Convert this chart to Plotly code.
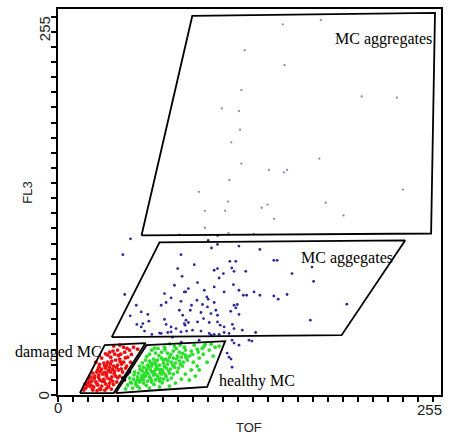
import plotly.graph_objects as go

# ---- data (TOF, FL3) ----
purple_x = [149.7, 175.0, 124.3, 150.8, 122.1, 202.2, 225.6, 109.1, 120.5, 121.2, 115.4, 174.0, 122.1, 140.4,
            150.5, 152.5, 114.1, 93.8, 229.6, 113.3, 178.2, 97.8, 111.3, 135.6, 139.5, 143.9, 190.1, 97.8,
            80.8, 113.5, 130.3]
purple_y = [244.9, 247.7, 227.8, 217.9, 201.4, 197.2, 196.4, 189.3, 187.6, 175.3, 166.9, 156.2, 152.9, 148.7,
            147.1, 148.7, 142.1, 134.2, 135.7, 127.8, 127.0, 121.7, 121.7, 123.7, 125.8, 116.4, 118.6, 110.5,
            105.9, 106.9, 106.5]

blue_x = [48.3, 43.2, 81.9, 79.7, 82.6, 44.4, 77.5, 70.9, 72.0, 75.3, 81.9, 84.1, 52.1, 55.4, 59.8, 68.7,
          80.8, 83.0, 48.1, 52.5, 56.5, 60.5, 70.9, 72.0, 75.3, 78.6, 84.1, 85.2, 55.4, 57.6, 62.5, 68.7,
          73.1, 75.3, 81.9, 85.6,
          100.0, 106.2, 102.2, 106.2, 120.5, 134.4, 114.4, 118.4, 90.7, 106.2, 104.0, 115.7, 117.2, 125.0,
          107.3, 110.1, 92.9, 104.0, 116.8, 85.0, 86.8, 97.4, 110.6, 120.5, 123.4, 125.6, 130.5, 134.4,
          99.1, 92.5, 100.0, 104.0, 88.9, 96.2, 99.5, 117.2, 119.4, 118.4, 105.1, 88.1, 95.2, 101.8, 106.2,
          115.0, 120.5, 86.8, 92.9, 96.9, 100.7, 106.2, 108.0, 110.6, 116.1, 117.2, 122.7, 131.6, 89.6,
          95.2, 100.7, 104.0, 107.3, 110.6, 113.9, 84.6,
          143.7, 145.9, 155.8, 169.1, 170.2, 143.7, 146.6, 152.5, 192.3, 168.0,
          67.6, 76.2, 82.1, 94.0, 102.0, 115.9, 120.5, 113.9, 115.9, 117.2, 127.2, 129.1, 112.6, 115.2]
blue_y = [103.2, 92.7, 92.7, 83.5, 78.4, 66.4, 72.5, 67.0, 61.1, 64.1, 61.9, 68.1, 59.3, 54.9, 53.2, 59.3,
          56.0, 52.7, 52.3, 46.6, 47.2, 48.8, 49.9, 46.6, 45.0, 43.9, 47.2, 49.4, 45.0, 42.2, 40.0, 40.7,
          41.3, 41.7, 41.7, 42.2,
          102.1, 105.4, 97.1, 99.5, 98.4, 96.2, 88.3, 88.3, 86.1, 83.5, 82.4, 83.9, 81.7, 81.7,
          77.3, 80.2, 74.3, 71.4, 72.9, 68.1, 70.3, 69.2, 68.1, 69.2, 65.9, 65.9, 68.1, 65.9,
          64.8, 62.6, 63.3, 61.1, 59.3, 59.8, 58.2, 59.3, 59.8, 57.5, 56.0, 56.0, 54.5, 53.8, 52.7,
          55.3, 53.2, 47.9, 48.3, 50.5, 47.9, 48.3, 46.1, 45.0, 46.6, 43.9, 42.8, 41.3, 42.8,
          42.2, 40.7, 40.0, 40.0, 41.3, 40.7, 46.1,
          89.0, 89.0, 80.2, 84.5, 75.1, 65.4, 63.3, 66.4, 60.0, 49.4,
          40.9, 38.2, 34.9, 36.2, 39.5, 36.2, 32.9, 25.0, 18.4, 34.3, 36.2, 35.6, 27.7, 23.7]

red_x = [18.5, 21.2, 23.8, 26.5, 29.1, 31.8, 34.4, 19.9, 22.5, 25.2, 27.8, 30.5, 33.1, 35.8, 38.4, 21.9,
         24.5, 27.2, 29.8, 32.5, 35.1, 37.8, 40.4, 26.5, 29.1, 31.8, 34.4, 37.1, 39.7, 42.4, 30.5, 33.1,
         35.8, 38.4, 41.1, 43.7, 45.0, 41.1, 36.4, 39.1, 23.2, 27.8, 32.5, 17.9, 20.5, 25.8, 31.1, 35.1,
         37.8, 41.7, 39.7, 44.4, 34.4, 46.4, 47.7, 50.3, 43.7, 33.1, 29.1, 25.2, 41.1, 53.0, 37.1, 27.2,
         23.2, 17.2, 43.0, 45.7, 48.3,
         19.3, 22.8, 25.9, 28.4, 30.9, 33.7, 36.9, 20.8, 24.1, 27.0, 29.5, 32.1, 34.8, 37.4, 39.8, 42.1,
         28.2, 30.9, 33.6, 36.3, 38.9, 41.4, 35.0, 32.4, 27.7, 44.8, 40.2, 36.6, 31.6, 48.9, 46.0, 22.0,
         26.0, 31.2, 35.5]
red_y = [4.6, 5.9, 5.3, 6.6, 5.9, 7.2, 7.9, 7.9, 9.2, 8.6, 9.9, 10.5, 11.2, 11.9, 12.5, 11.9,
         12.5, 13.2, 13.8, 14.5, 15.2, 15.8, 16.5, 16.5, 17.1, 17.8, 18.4, 19.1, 19.8, 20.4, 21.1, 21.7,
         22.4, 23.1, 23.7, 21.7, 17.8, 12.5, 9.2, 8.6, 3.3, 4.0, 4.6, 7.2, 10.5, 15.2, 19.1, 25.0,
         27.0, 27.0, 29.7, 28.3, 28.3, 25.0, 29.7, 31.6, 31.6, 26.4, 24.4, 21.7, 32.9, 30.3, 32.3, 18.4,
         14.5, 3.3, 15.2, 19.1, 21.7,
         6.1, 4.1, 7.4, 3.6, 8.8, 5.6, 6.9, 8.3, 10.9, 11.6, 9.1, 12.8, 10.2, 14.1, 11.4, 17.3,
         15.6, 14.9, 16.3, 17.0, 18.2, 22.0, 20.5, 19.8, 20.2, 24.5, 26.1, 29.0, 27.2, 26.8, 30.8, 6.5,
         2.8, 3.2, 3.9]

black_x = [43.0, 45.0, 46.4, 44.4, 47.7]
black_y = [11.2, 12.5, 13.8, 9.9, 15.2]

green_x = [46.4, 49.0, 51.7, 54.3, 57.0, 59.6, 62.3, 64.9, 67.6, 70.2, 72.9, 75.5,
           47.7, 50.3, 53.0, 55.6, 58.3, 60.9, 63.6, 66.2, 68.9, 71.5, 74.2, 76.8, 79.5,
           51.0, 53.6, 56.3, 58.9, 61.6, 64.2, 66.9, 69.5, 72.2, 74.8, 77.5, 80.1, 82.8,
           54.3, 57.0, 59.6, 62.3, 64.9, 67.6, 70.2, 72.9, 75.5, 78.2, 80.8, 83.4, 86.1,
           58.3, 60.9, 63.6, 66.2, 68.9, 71.5, 74.2, 76.8, 79.5, 82.1, 84.8, 87.4,
           60.9, 64.9, 68.9, 72.9, 76.8, 80.8, 84.8, 88.7, 92.7,
           64.2, 70.9, 77.5, 84.1, 90.7, 97.4, 102.0,
           90.1, 94.0, 96.7, 100.7, 104.6, 92.7, 88.7, 84.8, 82.1, 78.2, 74.2, 67.6, 60.9, 54.3, 45.0, 49.7,
           94.0, 99.3, 103.3, 91.4, 98.0, 107.3, 87.4,
           52.0, 56.0, 60.0, 62.0, 65.0, 68.0, 57.0, 63.0, 70.0, 59.0,
           48.3, 52.8, 55.1, 58.7, 61.3, 63.9, 66.8, 69.4, 71.9, 50.6, 54.7, 57.8, 60.2, 62.8, 65.6, 67.9,
           70.8, 73.6, 56.2, 59.1, 61.9, 65.3, 67.2, 70.0, 73.1, 76.4, 79.0, 81.6, 85.2, 62.4, 66.6, 71.2,
           75.1, 78.7, 83.0, 89.6, 93.3, 96.1, 81.3, 74.5, 53.2, 57.3, 64.6, 68.3]
green_y = [6.6, 7.9, 7.2, 8.6, 7.9, 9.2, 8.6, 9.9, 9.2, 10.5, 9.9, 11.2,
           11.2, 10.5, 11.9, 11.2, 12.5, 11.9, 13.2, 12.5, 13.8, 13.2, 14.5, 13.8, 15.2,
           15.2, 14.5, 15.8, 15.2, 16.5, 15.8, 17.1, 16.5, 17.8, 17.1, 18.4, 17.8, 19.1,
           19.1, 18.4, 19.8, 19.1, 20.4, 19.8, 21.1, 20.4, 21.7, 21.1, 22.4, 21.7, 23.1,
           23.1, 22.4, 23.7, 23.1, 24.4, 23.7, 25.0, 24.4, 25.7, 25.0, 26.4, 25.7,
           27.0, 27.7, 28.3, 27.7, 29.0, 28.3, 29.7, 29.0, 30.3,
           31.0, 31.6, 32.3, 31.6, 32.9, 32.3, 33.6,
           21.7, 24.4, 27.0, 29.7, 31.6, 19.1, 16.5, 13.8, 10.5, 7.9, 5.9, 5.3, 4.6, 4.6, 4.0, 4.6,
           16.5, 21.7, 25.7, 12.5, 33.6, 32.3, 9.9,
           9.0, 13.0, 14.0, 10.0, 17.0, 11.0, 10.0, 21.0, 15.0, 17.0,
           8.4, 5.8, 9.7, 6.4, 11.2, 7.0, 10.9, 8.1, 12.4, 13.3, 16.9, 14.0, 18.6, 15.1, 19.0, 14.6,
           18.9, 16.0, 21.2, 25.4, 20.8, 22.3, 26.0, 23.2, 22.8, 19.6, 23.9, 20.2, 24.9, 29.6, 30.8, 29.9,
           26.8, 30.6, 27.5, 26.9, 28.4, 30.9, 33.0, 33.8, 10.2, 12.2, 13.7, 16.7]

# gate polygons (closed)
gate_upper_x = [55.6, 89.4, 251.0, 248.4, 55.6]
gate_upper_y = [105.4, 250.4, 252.4, 106.7, 105.4]
gate_lower_x = [35.8, 67.6, 231.1, 188.8, 35.8]
gate_lower_y = [38.2, 100.8, 102.1, 39.5, 38.2]
gate_damaged_x = [14.6, 31.1, 58.3, 37.1, 14.6]
gate_damaged_y = [1.3, 32.9, 34.3, 1.3, 1.3]
gate_healthy_x = [38.4, 58.9, 111.3, 99.3, 67.6, 38.4]
gate_healthy_y = [1.3, 32.9, 35.6, 5.3, 3.3, 1.3]

gate_labels = ["MC aggregates", "MC aggegates", "damaged MC", "healthy MC"]
gate_label_x = [216.6, 192.1, 0.0, 132.5]
gate_label_y = [235.2, 90.3, 28.3, 9.0]

tick_vals = [0, 255]
tick_text = ["0", "255"]

fig = go.Figure()

def pts(x, y, color, size):
    fig.add_trace(go.Scatter(x=x, y=y, mode="markers",
                             marker=dict(color=color, size=size, line=dict(width=0)),
                             hoverinfo="skip", showlegend=False))

pts(purple_x, purple_y, "#a678b8", 2.3)
pts(blue_x, blue_y, "#2a2a9a", 2.8)
pts(green_x, green_y, "#2ae02a", 3.8)
pts(red_x, red_y, "#ee1010", 3.8)
pts(black_x, black_y, "#101010", 3.5)

for gx, gy in [(gate_upper_x, gate_upper_y), (gate_lower_x, gate_lower_y),
               (gate_damaged_x, gate_damaged_y), (gate_healthy_x, gate_healthy_y)]:
    fig.add_trace(go.Scatter(x=gx, y=gy, mode="lines",
                             line=dict(color="black", width=1.8),
                             hoverinfo="skip", showlegend=False))

serif = "Liberation Serif, Times New Roman, serif"
sans = "Liberation Sans, Arial, sans-serif"

for t, x, y in zip(gate_labels, gate_label_x, gate_label_y):
    fig.add_annotation(x=x, y=y, xref="x", yref="y", text=t, showarrow=False,
                       font=dict(family=serif, size=16, color="black"),
                       xanchor="center", yanchor="middle")

# tick labels
fig.add_annotation(x=tick_vals[0], y=-0.033, xref="x", yref="paper", text=tick_text[0],
                   showarrow=False, font=dict(family=sans, size=15, color="#222"),
                   xanchor="center", yanchor="middle")
fig.add_annotation(x=tick_vals[1], y=-0.038, xref="x", yref="paper", text=tick_text[1],
                   showarrow=False, font=dict(family=sans, size=15, color="#222"),
                   xanchor="right", yanchor="middle", xshift=3)
fig.add_annotation(x=-0.038, y=tick_vals[0], xref="paper", yref="y", text=tick_text[0],
                   showarrow=False, font=dict(family=sans, size=15, color="#222"),
                   textangle=-90, xanchor="center", yanchor="middle")
fig.add_annotation(x=-0.036, y=tick_vals[1], xref="paper", yref="y", text=tick_text[1],
                   showarrow=False, font=dict(family=sans, size=15, color="#222"),
                   textangle=-90, xanchor="center", yanchor="middle", yshift=-20)

# axis titles
fig.add_annotation(x=0.499, y=-0.083, xref="paper", yref="paper", text="TOF", showarrow=False,
                   font=dict(family=sans, size=13, color="#222"), xanchor="center", yanchor="middle")
fig.add_annotation(x=-0.08, y=0.525, xref="paper", yref="paper", text="FL3", showarrow=False,
                   font=dict(family=sans, size=13, color="#222"), textangle=-90,
                   xanchor="center", yanchor="middle")

axis_common = dict(range=[0, 255], showgrid=False, zeroline=False, showline=True,
                   linecolor="black", linewidth=2, mirror=True, ticks="outside",
                   ticklen=5, tickwidth=1.5, tickcolor="black", tick0=0, dtick=10,
                   showticklabels=False)

fig.update_layout(width=450, height=434, margin=dict(l=58, r=7, t=8, b=39),
                  paper_bgcolor="white", plot_bgcolor="white",
                  xaxis=axis_common, yaxis=axis_common)

fig.write_html("out.html")
